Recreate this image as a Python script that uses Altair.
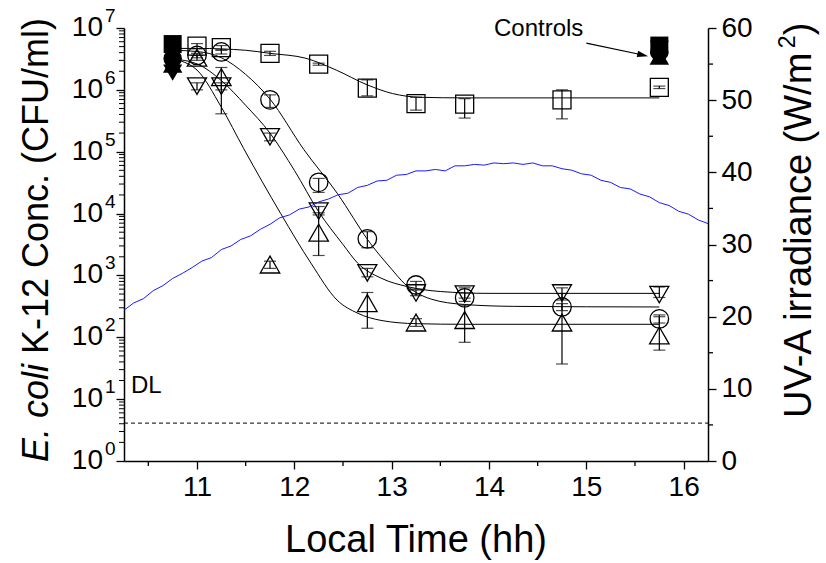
import altair as alt
import pandas as pd

W, H = 584, 433
FONT = "Liberation Sans"

# ---------------- data ----------------
times = [11.0, 11.25, 11.75, 12.25, 12.75, 13.25, 13.75, 14.75, 15.75]

sq = [5.1e6, 4.8e6, 3.9e6, 2.6e6, 1.07e6, 6.0e5, 5.9e5, 6.9e5, 1.1e6]
sq_lo = [4.6e6, 4.4e6, 3.6e6, 2.5e6, 8.0e5, 4.7e5, 3.5e5, 3.4e5, 1.05e6]
sq_hi = [5.6e6, 5.2e6, 4.2e6, 2.7e6, 1.45e6, 7.6e5, 7.2e5, 1.0e6, 1.15e6]

ci = [3.6e6, 4.1e6, 6.9e5, 3.2e4, 3.9e3, 700, 435, 310, 198]
ci_lo = [3.3e6, 3.8e6, 5.2e5, 2.2e4, 2.8e3, 600, 380, 270, 170]
ci_hi = [3.9e6, 4.4e6, 8.3e5, 3.7e4, 5.1e3, 800, 520, 350, 230]

dt = [1.15e6, 1.15e6, 1.74e5, 1.1e4, 1100, 520, 500, 520, 490]
dt_lo = [1.0e6, 1.0e6, 1.5e5, 9.5e3, 950, 470, 430, 400, 440]
dt_hi = [1.3e6, 1.3e6, 2.0e5, 1.3e4, 1300, 580, 630, 630, 650]

ut = [3.3e6, 1.6e6, 1500, 4900, 357, 173, 190, 173, 107]
ut_lo = [3.0e6, 4.1e5, 1300, 2.1e3, 140, 150, 83, 37, 62]
ut_hi = [3.6e6, 2.3e6, 1700, 1.03e4, 530, 200, 330, 510, 215]

ctrl_t = [10.75, 15.75]
ctrl_sq = [5.5e6, 5.2e6]
ctrl_ci = [3.2e6, 4.1e6]
ctrl_ut = [2.6e6, 3.5e6]
ctrl_dt = [1.9e6, 4.6e6]

# fitted curves (log10 CFU/ml)
fit_sq_t = [10.75, 11.0, 11.5, 11.75, 12.12, 12.43, 12.75, 13.01, 13.29, 13.75, 15.75]
fit_sq_v = [6.67, 6.67, 6.64, 6.59, 6.51, 6.32, 6.08, 5.94, 5.88, 5.87, 5.87]
fit_ci_t = [10.75, 11.0, 11.25, 11.5, 11.75, 12.1, 12.44, 12.78, 13.0, 13.13, 13.4, 13.75, 14.25, 15.75]
fit_ci_v = [6.64, 6.62, 6.52, 6.25, 5.85, 5.03, 4.33, 3.52, 3.10, 2.87, 2.62, 2.53, 2.50, 2.49]
fit_dt_t = [10.75, 11.0, 11.25, 11.5, 11.75, 12.0, 12.25, 12.5, 12.65, 12.9, 13.16, 13.5, 14.0, 15.75]
fit_dt_v = [6.50, 6.42, 6.15, 5.75, 5.30, 4.70, 4.03, 3.50, 3.20, 2.95, 2.82, 2.74, 2.71, 2.71]
fit_ut_t = [10.75, 11.0, 11.25, 11.48, 11.86, 12.17, 12.44, 12.65, 12.9, 13.25, 13.75, 15.75]
fit_ut_v = [6.50, 6.32, 5.72, 5.05, 4.00, 3.20, 2.60, 2.39, 2.27, 2.22, 2.21, 2.21]

# UV-A irradiance (W/m2), read every 0.1 h from 10.25 to 16.25
irr_t = [round(10.25 + 0.1 * i, 2) for i in range(61)]
irr_v = [20.9, 21.9, 22.5, 23.6, 24.3, 25.3, 26.0, 26.8, 27.7, 28.2,
         29.3, 29.8, 30.7, 31.2, 32.1, 32.8, 33.7, 34.1, 34.9, 35.2,
         35.9, 36.3, 36.9, 37.1, 37.9, 38.2, 38.8, 38.9, 39.6, 39.7,
         40.2, 40.2, 40.4, 40.2, 40.9, 40.9, 41.1, 41.0, 41.3, 41.2,
         41.3, 41.1, 41.3, 40.9, 40.9, 40.5, 40.3, 39.8, 39.6, 38.9,
         38.6, 37.9, 37.7, 37.0, 36.6, 35.8, 35.4, 34.6, 34.2, 33.4, 32.9]

detection_limit = 4.1
y_decades = [1, 10, 100, 1000, 10000, 100000, 1000000, 10000000]
y_exps = ["0", "1", "2", "3", "4", "5", "6", "7"]
x_ticks = [11, 12, 13, 14, 15, 16]
x_minor = [10.5, 11.5, 12.5, 13.5, 14.5, 15.5]
irr_ticks = [0, 10, 20, 30, 40, 50, 60]
irr_minor = [5, 15, 25, 35, 45, 55]
y_minor = [m * d for d in [1, 10, 100, 1000, 1e4, 1e5, 1e6] for m in range(2, 10)]

# ---------------- tables ----------------
series_names = ["sq", "ci", "dt", "ut"]
vals = {"sq": (sq, sq_lo, sq_hi), "ci": (ci, ci_lo, ci_hi),
        "dt": (dt, dt_lo, dt_hi), "ut": (ut, ut_lo, ut_hi)}
rows = []
for s in series_names:
    v, lo, hi = vals[s]
    for i, t in enumerate(times):
        rows.append({"t": t, "v": v[i], "lo": lo[i], "hi": hi[i], "s": s})
pts = pd.DataFrame(rows)

ctrl_rows = []
for s, arr in zip(series_names, [ctrl_sq, ctrl_ci, ctrl_dt, ctrl_ut]):
    for t, v in zip(ctrl_t, arr):
        ctrl_rows.append({"t": t, "v": v, "s": s})
ctrl = pd.DataFrame(ctrl_rows)

fit_rows = []
for s, (tt, vv) in {"sq": (fit_sq_t, fit_sq_v), "ci": (fit_ci_t, fit_ci_v),
                    "dt": (fit_dt_t, fit_dt_v), "ut": (fit_ut_t, fit_ut_v)}.items():
    for t, v in zip(tt, vv):
        fit_rows.append({"t": t, "v": 10 ** v, "s": s})
fits = pd.DataFrame(fit_rows)

irr = pd.DataFrame({"t": irr_t, "w": irr_v})

# ---------------- scales ----------------
xs = alt.Scale(domain=[10.25, 16.25], nice=False, zero=False)
ys = alt.Scale(type="log", domain=[1, 10000000], nice=False)
irs = alt.Scale(domain=[0, 60], nice=False, zero=True)

shape_scale = alt.Scale(domain=series_names,
                        range=["square", "circle", "triangle-down", "triangle-up"])
size_scale = alt.Scale(domain=series_names, range=[324, 380, 560, 560])


# no "axis=None" in shared-scale layers: the axis comes from the carrier layer
def X(f="t"):
    return alt.X(f"{f}:Q", scale=xs)


def Y(f="v"):
    return alt.Y(f"{f}:Q", scale=ys)


x_axis = alt.Axis(values=x_ticks, format="d", tickSize=8, tickWidth=1.3, tickColor="black",
                  domainColor="black", domainWidth=1.5, labelFont=FONT, labelFontSize=28,
                  labelColor="black", labelPadding=4, title=None, grid=False, orient="bottom")
y_axis = alt.Axis(orient="left", values=y_decades, labels=False, tickSize=8, tickWidth=1.3,
                  tickColor="black", domainColor="black", domainWidth=1.5, title=None, grid=False)
irr_axis = alt.Axis(orient="right", values=irr_ticks, tickSize=8, tickWidth=1.3, tickColor="black",
                    domainColor="black", domainWidth=1.5, labelFont=FONT, labelFontSize=28,
                    labelColor="black", labelPadding=5, title=None, grid=False)

# ---------------- log-scale group ----------------
carrier = alt.Chart(pts).mark_point(opacity=0).encode(
    x=alt.X("t:Q", scale=xs, axis=x_axis),
    y=alt.Y("v:Q", scale=ys, axis=y_axis))

dl = alt.Chart(pd.DataFrame({"v": [detection_limit]})).mark_rule(
    color="black", strokeWidth=1, strokeDash=[4, 3]).encode(
    y=Y(), x=alt.value(0), x2=alt.value(W))

fit_lines = alt.Chart(fits).mark_line(color="black", strokeWidth=1, interpolate="monotone").encode(
    x=X(), y=Y(), detail="s:N")

whisk = alt.Chart(pts).mark_rule(color="black", strokeWidth=1.2).encode(
    x=X(), y=Y("lo"), y2="hi:Q")
cap_lo = alt.Chart(pts).mark_tick(color="black", orient="horizontal", size=12, thickness=1.2).encode(
    x=X(), y=Y("lo"))
cap_hi = alt.Chart(pts).mark_tick(color="black", orient="horizontal", size=12, thickness=1.2).encode(
    x=X(), y=Y("hi"))

markers = alt.Chart(pts).mark_point(filled=False, color="black", strokeWidth=1.3, opacity=1).encode(
    x=X(), y=Y(),
    shape=alt.Shape("s:N", scale=shape_scale, legend=None),
    size=alt.Size("s:N", scale=size_scale, legend=None))

controls = alt.Chart(ctrl).mark_point(filled=True, color="black", opacity=1).encode(
    x=X(), y=Y(),
    shape=alt.Shape("s:N", scale=shape_scale, legend=None),
    size=alt.Size("s:N", scale=size_scale, legend=None))

ymin = alt.Chart(pd.DataFrame({"v": y_minor})).mark_rule(color="black", strokeWidth=1).encode(
    y=Y(), x=alt.value(-5), x2=alt.value(0))
xmin = alt.Chart(pd.DataFrame({"t": x_minor})).mark_rule(color="black", strokeWidth=1.3).encode(
    x=X(), y=alt.value(H), y2=alt.value(H + 5))

lab_df = pd.DataFrame({"v": y_decades, "e": y_exps, "b": ["10"] * len(y_decades)})
lab10 = alt.Chart(lab_df).mark_text(font=FONT, fontSize=28, align="right", baseline="middle",
                                    color="black").encode(y=Y(), x=alt.value(-21), text="b:N")
labexp = alt.Chart(lab_df).mark_text(font=FONT, fontSize=19, align="left", baseline="middle",
                                     color="black", dy=-12).encode(y=Y(), x=alt.value(-19), text="e:N")

arrow_df = pd.DataFrame({"t0": [15.0], "t1": [15.58], "v0": [5.7e6], "v1": [3.66e6]})
arrow_line = alt.Chart(arrow_df).mark_rule(color="black", strokeWidth=1.2).encode(
    x=X("t0"), x2="t1:Q", y=Y("v0"), y2="v1:Q")
arrow_head = alt.Chart(arrow_df).mark_point(
    shape="M1,0L-1,-0.6L-1,0.6Z", filled=True, color="black", size=121, angle=12, opacity=1).encode(
    x=X("t1"), y=Y("v1"))

log_group = alt.layer(carrier, dl, fit_lines, whisk, cap_lo, cap_hi, markers, controls,
                      ymin, xmin, lab10, labexp, arrow_line, arrow_head)

# ---------------- irradiance group ----------------
irr_line = alt.Chart(irr).mark_line(color="#1a1aff", strokeWidth=1).encode(
    x=X(), y=alt.Y("w:Q", scale=irs, axis=irr_axis))
irr_min = alt.Chart(pd.DataFrame({"w": irr_minor})).mark_rule(color="black", strokeWidth=1.3).encode(
    y=alt.Y("w:Q", scale=irs), x=alt.value(W), x2=alt.value(W + 5))
irr_group = alt.layer(irr_line, irr_min)

# ---------------- text annotations ----------------
one = pd.DataFrame({"a": [0]})
TF = 36
RT = 38


def txt(text, x, y, **kw):
    return alt.Chart(one).mark_text(text=text, font=FONT, color="black", **kw).encode(
        x=alt.value(x), y=alt.value(y))


main_w = 9.727 * RT
texts = [
    txt("E. coli", -87, 434, fontSize=TF, fontStyle="italic", angle=270, align="left", baseline="middle"),
    txt("K-12 Conc. (CFU/ml)", -87, 434 - 3.0 * TF, fontSize=TF, angle=270, align="left", baseline="middle"),
    txt("UV-A irradiance (W/m", 676, 390, fontSize=RT, angle=270, align="left", baseline="middle"),
    txt("2", 664, 390 - main_w, fontSize=23, angle=270, align="left", baseline="middle"),
    txt(")", 676, 390 - main_w - 13, fontSize=RT, angle=270, align="left", baseline="middle"),
    txt("Local Time (hh)", W / 2, 524, fontSize=38, align="center", baseline="alphabetic"),
    txt("DL", 7, 365, fontSize=24, align="left", baseline="alphabetic"),
    txt("Controls", 370, 8, fontSize=24, align="left", baseline="alphabetic"),
]

chart = alt.layer(log_group, irr_group, *texts).resolve_scale(y="independent").properties(
    width=W, height=H,
    padding={"left": 124, "top": 28, "right": 118, "bottom": 102},
    autosize=alt.AutoSizeParams(type="none"),
    background="white",
).configure_view(stroke=None)

chart.save("out.html", embed_options={"renderer": "svg", "actions": False})
